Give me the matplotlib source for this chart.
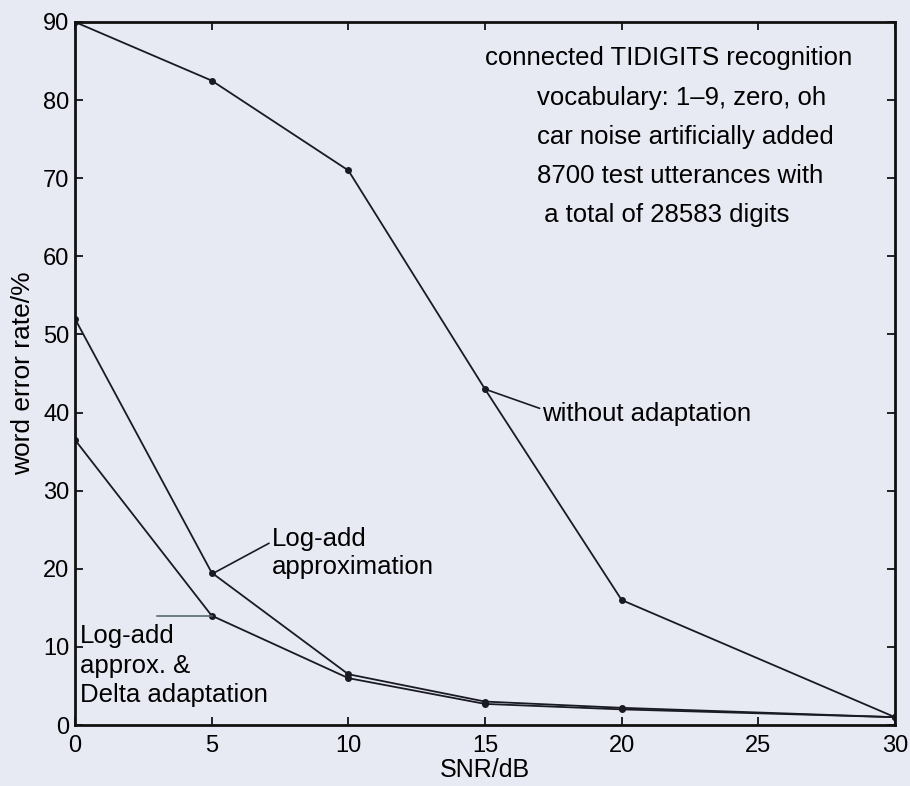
import matplotlib
matplotlib.use("Agg")
import matplotlib.pyplot as plt

plt.rcParams['font.family'] = ['Liberation Sans', 'DejaVu Sans']

snr = [0, 5, 10, 15, 20, 30]
no_adapt = [90, 82.5, 71, 43, 16, 1]
logadd = [52, 19.5, 6.5, 3, 2.2, 1]
logadd_delta = [36.5, 14, 6, 2.7, 2, 1]

xticks = [0, 5, 10, 15, 20, 25, 30]
yticks = [0, 10, 20, 30, 40, 50, 60, 70, 80, 90]

bg = '#e7e9f3'
fig = plt.figure(figsize=(9.1, 7.86), dpi=100, facecolor=bg)
ax = fig.add_axes([75/910, 1-725/786, 820/910, 703/786], facecolor=bg)

for ys in (no_adapt, logadd, logadd_delta):
    ax.plot(snr, ys, color='#1a1a22', lw=1.3, marker='o', ms=4, mec='#1a1a22')

ax.set_xlim(0, 30)
ax.set_ylim(0, 90)
ax.set_xticks(xticks)
ax.set_yticks(yticks)
ax.tick_params(direction='in', top=True, right=True, labelsize=17, length=6, width=1.2, pad=4)
ax.tick_params(axis='x', pad=7)
for s in ax.spines.values():
    s.set_linewidth(2)
    s.set_color('#111111')

ax.set_xlabel('SNR/dB', fontsize=18, labelpad=1)
ax.set_ylabel('word error rate/%', fontsize=19, labelpad=6)

# annotations
fs = 18.5
ax.annotate('without adaptation', xy=(15, 43), xytext=(17.1, 39.8),
            fontsize=fs, va='center', ha='left',
            arrowprops=dict(arrowstyle='-', color='#1a1a22', lw=1.2, shrinkA=0, shrinkB=0,
                            relpos=(0, 0.7)))
ax.annotate('Log-add\napproximation', xy=(5.1, 19.5), xytext=(7.2, 22.0),
            fontsize=fs, va='center', ha='left', linespacing=1.2,
            arrowprops=dict(arrowstyle='-', color='#1a1a22', lw=1.2, shrinkA=0, shrinkB=0,
                            relpos=(0, 0.72)))
ax.text(0.18, 7.6, 'Log-add\napprox. &\nDelta adaptation', fontsize=fs, va='center',
        ha='left', linespacing=1.3)
ax.plot([3.0, 5], [14, 14], color='#5a6a6a', lw=1.2)

ax.text(21.7, 85.4, 'connected TIDIGITS recognition', fontsize=fs, ha='center', va='center')
info = ['vocabulary: 1\u20139, zero, oh', 'car noise artificially added',
        '8700 test utterances with', ' a total of 28583 digits']
for i, line in enumerate(info):
    ax.text(16.9, 80.3 - i * 5.0, line, fontsize=fs, ha='left', va='center')

fig.savefig('out.png', dpi=100, facecolor=bg)
